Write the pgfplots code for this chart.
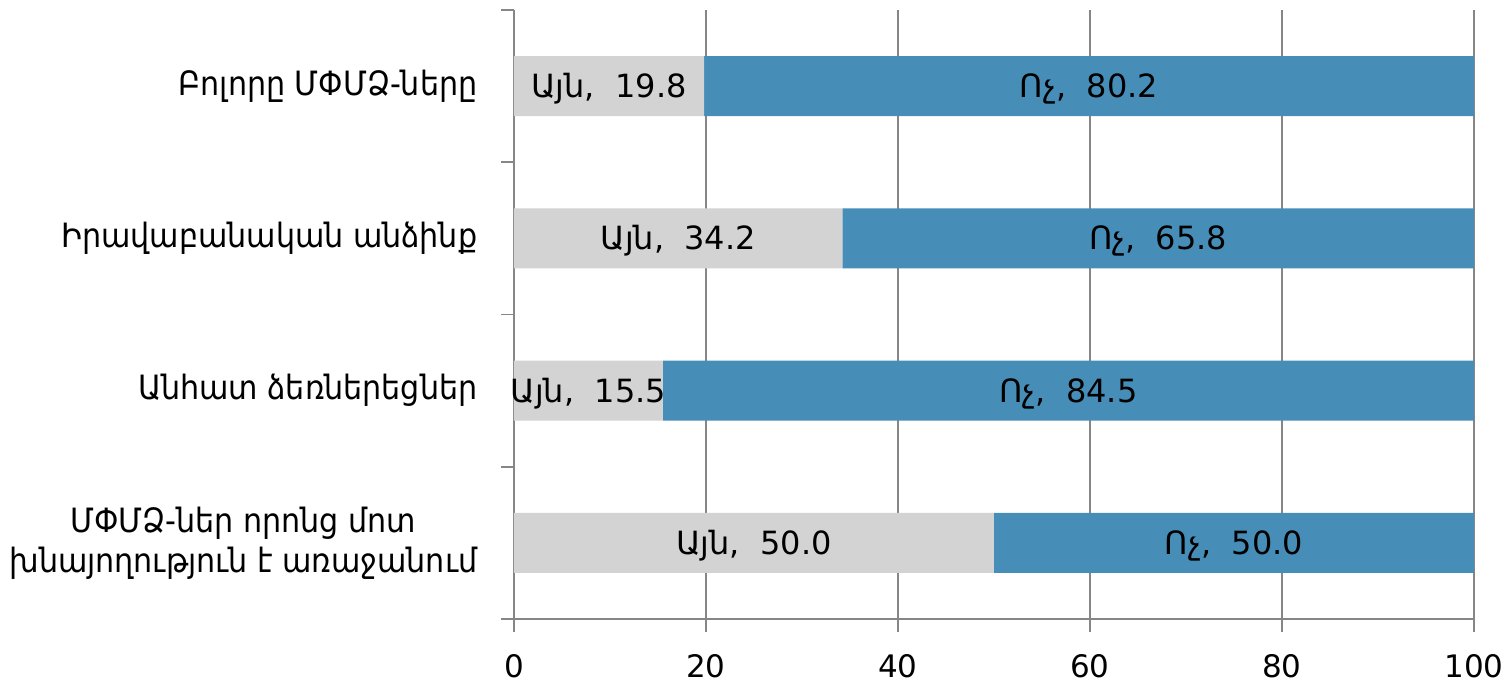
\documentclass[border=0pt]{standalone}
\usepackage{fontspec}
\setmainfont{DejaVu Sans}
\newfontfamily\condfont{DejaVu Sans Condensed}
\usepackage{pgfplots}
\usepackage{pgfplotstable}
\pgfplotsset{compat=1.18}
\definecolor{yesc}{RGB}{211,211,211}
\definecolor{noc}{RGB}{70,142,184}
\definecolor{axc}{RGB}{134,134,134}
\pgfplotstableread{
y yes no
3 19.8 80.2
2 34.2 65.8
1 15.5 84.5
0 50.0 50.0
}\data
\begin{document}
\fontsize{31}{38}\selectfont
\begin{tikzpicture}
\pgfplotsset{common/.style={width=960pt,height=609pt,scale only axis,
  xmin=0,xmax=100,ymin=-0.5,ymax=3.5,
  /pgf/number format/assume math mode=true}}
\begin{axis}[common, name=ax, xbar stacked, bar width=60pt,
  axis lines*=left,
  axis line style={axc,line width=1.6pt},
  xmajorgrids, grid style={axc,line width=1.6pt},
  xtick={0,20,40,60,80,100},
  tick align=outside, major tick length=13pt,
  tick style={axc,line width=1.6pt},
  ytick={-0.5,0.5,1.5,2.5,3.5}, yticklabels={},
  extra y ticks={0,1,2,3},
  extra y tick labels={{ՄՓՄՁ-ներ որոնց մոտ\\խնայողություն է առաջանում},Անհատ ձեռներեցներ,Իրավաբանական անձինք,Բոլորը ՄՓՄՁ-ները},
  extra y tick style={major tick length=0pt, yticklabel style={align=center, xshift=-26pt, font=\condfont\fontsize{33.5}{40}\selectfont}},
  ticklabel style={font=\fontsize{31}{38}\selectfont},
  xticklabel style={yshift=-12pt},
]
\addplot[fill=yesc,draw=none] table[x=yes,y=y] \data;
\addplot[fill=noc,draw=none] table[x=no,y=y] \data;
\end{axis}
\begin{axis}[common, hide axis]
\addplot[draw=none, mark=none, point meta=explicit,
  nodes near coords={Այն,\ \ \pgfmathprintnumber[fixed,fixed zerofill,precision=1]{\pgfplotspointmeta}},
  nodes near coords align=center,
  every node near coord/.append style={font=\fontsize{32}{38}\selectfont, text=black, anchor=base, yshift=-11.5pt}]
  table[x expr=\thisrow{yes}/2, y=y, meta=yes] \data;
\addplot[draw=none, mark=none, point meta=explicit,
  nodes near coords={Ոչ,\ \ \pgfmathprintnumber[fixed,fixed zerofill,precision=1]{\pgfplotspointmeta}},
  nodes near coords align=center,
  every node near coord/.append style={font=\fontsize{32}{38}\selectfont, text=black, anchor=base, yshift=-11.5pt}]
  table[x expr=\thisrow{yes}+\thisrow{no}/2, y=y, meta=no] \data;
\end{axis}
\pgfresetboundingbox
\path[use as bounding box] ([shift={(-514pt,-66pt)}]ax.south west) rectangle ([shift={(30pt,10pt)}]ax.north east);
\end{tikzpicture}
\end{document}
